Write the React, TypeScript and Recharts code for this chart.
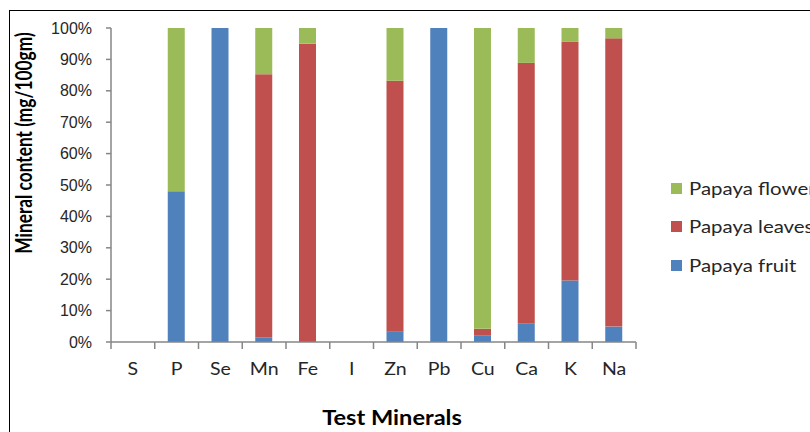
import React from "react";
import { BarChart, Bar, XAxis, YAxis } from "recharts";

const minerals = ["S", "P", "Se", "Mn", "Fe", "I", "Zn", "Pb", "Cu", "Ca", "K", "Na"];
const fruit = [0, 48, 100, 1.5, 0, 0, 3.3, 100, 2, 5.8, 19.6, 4.9];
const leaves = [0, 0, 0, 83.8, 95, 0, 79.9, 0, 2.2, 83.1, 76.1, 91.8];
const flower = [0, 52, 0, 14.7, 5, 0, 16.8, 0, 95.8, 11.1, 4.3, 3.3];
const yTicks = [0, 10, 20, 30, 40, 50, 60, 70, 80, 90, 100];

const series = [
  { key: "flower", name: "Papaya flower", color: "#9BBB59" },
  { key: "leaves", name: "Papaya leaves", color: "#C0504D" },
  { key: "fruit", name: "Papaya fruit", color: "#4F81BD" },
];

const data = minerals.map((m, i) => ({
  name: m,
  fruit: fruit[i],
  leaves: leaves[i],
  flower: flower[i],
}));

const PLOT_LEFT = 111;
const PLOT_RIGHT = 636;
const STEP = (PLOT_RIGHT - PLOT_LEFT) / minerals.length;
const AXIS = "#868686";
const LABEL_FONT = "Lato, 'Open Sans', sans-serif";

// labels in the original are a bit wider than Lato, so stretch them sideways
const MineralTick = (props: any) => {
  const { x, y, payload, index } = props;
  const half = STEP / 2;
  return (
    <g>
      <line x1={x - half} x2={x - half} y1={y} y2={y + 7} stroke={AXIS} strokeWidth={1.5} />
      {index === minerals.length - 1 && (
        <line x1={x + half} x2={x + half} y1={y} y2={y + 7} stroke={AXIS} strokeWidth={1.5} />
      )}
      <text
        transform={`translate(${x},${y + 33}) scale(1.15,1)`}
        textAnchor="middle"
        fill="#262626"
        fontSize={17}
        fontFamily={LABEL_FONT}
      >
        {payload.value}
      </text>
    </g>
  );
};

export default function App() {
  return (
    <div
      style={{
        position: "absolute",
        left: 0,
        top: 0,
        width: 810,
        height: 432,
        overflow: "hidden",
        background: "#fff",
      }}
    >
      <div
        style={{
          position: "absolute",
          left: 9,
          top: 10,
          width: 900,
          height: 500,
          borderLeft: "1px solid #000",
          borderTop: "1px solid #000",
        }}
      />
      <BarChart
        width={810}
        height={432}
        data={data}
        margin={{ top: 28, right: 810 - PLOT_RIGHT, bottom: 50, left: PLOT_LEFT - 60 }}
        style={{ position: "absolute", left: 0, top: 0 }}
      >
        <XAxis
          dataKey="name"
          height={40}
          tickSize={0}
          tickMargin={0}
          tickLine={false}
          axisLine={{ stroke: AXIS, strokeWidth: 1.5 }}
          tick={<MineralTick />}
          interval={0}
        />
        <YAxis
          width={60}
          domain={[0, 100]}
          ticks={yTicks}
          tickFormatter={(v: number) => `${v}%`}
          tickSize={5}
          tickMargin={14}
          axisLine={{ stroke: AXIS, strokeWidth: 1.5 }}
          tickLine={{ stroke: AXIS, strokeWidth: 1.5 }}
          tick={{ fill: "#262626", fontSize: 16, fontFamily: "'Liberation Sans', Arial, sans-serif" }}
        />
        <Bar dataKey="fruit" name="Papaya fruit" stackId="a" fill="#4F81BD" barSize={17} isAnimationActive={false} />
        <Bar dataKey="leaves" name="Papaya leaves" stackId="a" fill="#C0504D" barSize={17} isAnimationActive={false} />
        <Bar dataKey="flower" name="Papaya flower" stackId="a" fill="#9BBB59" barSize={17} isAnimationActive={false} />
      </BarChart>

      <div
        style={{
          position: "absolute",
          left: 24 - 130,
          top: 143 - 12,
          width: 260,
          height: 24,
          lineHeight: "24px",
          textAlign: "center",
          transform: "rotate(-90deg) scale(0.91, 1.15)",
          fontFamily: LABEL_FONT,
          fontWeight: 700,
          fontSize: 19,
          color: "#000",
          whiteSpace: "nowrap",
        }}
      >
        Mineral content (mg/100gm)
      </div>

      <div
        style={{
          position: "absolute",
          left: 392 - 100,
          top: 407,
          width: 200,
          lineHeight: "20px",
          textAlign: "center",
          transform: "scaleX(1.18)",
          fontFamily: LABEL_FONT,
          fontWeight: 700,
          fontSize: 20,
          color: "#000",
          whiteSpace: "nowrap",
        }}
      >
        Test Minerals
      </div>

      {series.map((s, i) => (
        <div
          key={s.key}
          style={{
            position: "absolute",
            left: 671,
            top: 188 - 12 + i * 38.5,
            height: 24,
            display: "flex",
            alignItems: "center",
            whiteSpace: "nowrap",
            fontFamily: LABEL_FONT,
            fontSize: 17,
            color: "#262626",
          }}
        >
          <span style={{ display: "inline-block", width: 11, height: 11, background: s.color, marginRight: 7 }} />
          <span style={{ display: "inline-block", transform: "scaleX(1.2)", transformOrigin: "left center" }}>
            {s.name}
          </span>
        </div>
      ))}
    </div>
  );
}
